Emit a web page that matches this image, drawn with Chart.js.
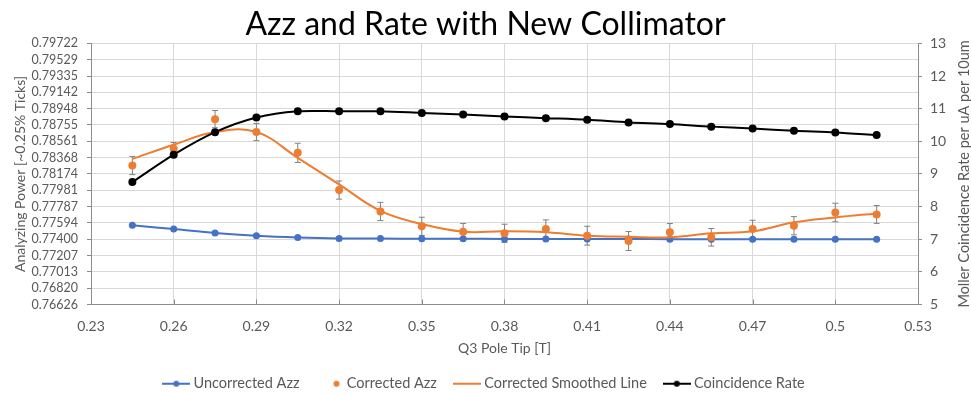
<!DOCTYPE html>
<html>
<head>
<meta charset="utf-8">
<script src="https://cdn.jsdelivr.net/npm/chart.js@4.4.0/dist/chart.umd.min.js"></script>
<style>
  html, body { margin: 0; padding: 0; background: #fff; }
  #wrap { width: 971px; height: 394px; overflow: hidden; }
</style>
</head>
<body>
<div id="wrap"><canvas id="azzChart" width="971" height="394"></canvas></div>
<script>
// Q3 pole tip settings [T]
const q3PoleTip = [0.245, 0.26, 0.275, 0.29, 0.305, 0.32, 0.335, 0.35, 0.365, 0.38,
                   0.395, 0.41, 0.425, 0.44, 0.455, 0.47, 0.485, 0.5, 0.515];

// left axis: analyzing power
const uncorrectedAzz = [0.77565, 0.77520, 0.77473, 0.77440, 0.77420, 0.77410, 0.77408, 0.77406, 0.77405, 0.77404,
                        0.77403, 0.77402, 0.77402, 0.77401, 0.77401, 0.77400, 0.77400, 0.77400, 0.77400];
const correctedAzz = [0.78274, 0.78474, 0.78824, 0.78671, 0.78424, 0.77983, 0.77729, 0.77553, 0.77489, 0.77470,
                      0.77521, 0.77442, 0.77379, 0.77482, 0.77423, 0.77521, 0.77560, 0.77717, 0.77694];
const correctedErr = [0.00108, 0.00072, 0.00102, 0.00102, 0.00114, 0.00108, 0.00108, 0.00108, 0.00098, 0.00108,
                      0.00108, 0.00112, 0.00112, 0.00104, 0.00104, 0.00104, 0.00108, 0.00110, 0.00106];
const smoothedAzz = [0.78353, 0.78521, 0.78671, 0.78671, 0.78365, 0.78050, 0.77736, 0.77580, 0.77489, 0.77494,
                     0.77482, 0.77442, 0.77430, 0.77423, 0.77470, 0.77494, 0.77600, 0.77658, 0.77706];

// right axis: coincidence rate per uA per 10um
const coincidenceRate = [8.75, 9.59, 10.28, 10.73, 10.92, 10.92, 10.92, 10.87, 10.82, 10.76,
                         10.71, 10.66, 10.58, 10.53, 10.45, 10.39, 10.32, 10.27, 10.19];

const xTicks = [0.23, 0.26, 0.29, 0.32, 0.35, 0.38, 0.41, 0.44, 0.47, 0.5, 0.53];
const leftTicks = [0.76626, 0.76820, 0.77013, 0.77207, 0.77400, 0.77594, 0.77787, 0.77981, 0.78174,
                   0.78368, 0.78561, 0.78755, 0.78948, 0.79142, 0.79335, 0.79529, 0.79722];

const BLUE = '#4472c4', ORANGE = '#ed7d31', BLACK = '#000000';
const TEXT = '#595959', GRID = '#d9d9d9', AXIS = '#8c8c8c';
const FONT = 'Lato';

const pts = arr => q3PoleTip.map((x, i) => ({ x: x, y: arr[i] }));

function legendIcon(color, line, dot) {
  const c = document.createElement('canvas');
  c.width = 28; c.height = 10;
  const g = c.getContext('2d');
  if (line) {
    g.strokeStyle = color; g.lineWidth = 2;
    g.beginPath(); g.moveTo(0, 5); g.lineTo(28, 5); g.stroke();
  }
  if (dot) {
    g.fillStyle = color;
    g.beginPath(); g.arc(line ? 14 : 21, 5, 3, 0, Math.PI * 2); g.fill();
  }
  return c;
}

const errorBars = {
  id: 'errorBars',
  beforeDatasetsDraw(chart) {
    const ctx = chart.ctx, xs = chart.scales.x, ys = chart.scales.yLeft;
    ctx.save();
    ctx.strokeStyle = '#808080';
    ctx.lineWidth = 1;
    q3PoleTip.forEach((t, i) => {
      const px = xs.getPixelForValue(t);
      const top = ys.getPixelForValue(correctedAzz[i] + correctedErr[i]);
      const bot = ys.getPixelForValue(correctedAzz[i] - correctedErr[i]);
      ctx.beginPath();
      ctx.moveTo(px, top); ctx.lineTo(px, bot);
      ctx.moveTo(px - 3, top); ctx.lineTo(px + 3, top);
      ctx.moveTo(px - 3, bot); ctx.lineTo(px + 3, bot);
      ctx.stroke();
    });
    // small inside tick marks on the x axis
    ctx.strokeStyle = AXIS;
    const yb = chart.chartArea.bottom;
    xTicks.forEach(t => {
      const px = Math.round(xs.getPixelForValue(t)) + 0.5;
      ctx.beginPath(); ctx.moveTo(px, yb); ctx.lineTo(px, yb - 5); ctx.stroke();
    });
    ctx.restore();
  }
};

// right axis title reads bottom-to-top, so draw it by hand
const rightTitle = {
  id: 'rightTitle',
  afterDraw(chart) {
    const ctx = chart.ctx, a = chart.chartArea, s = chart.scales.yRight;
    ctx.save();
    ctx.translate(s.right - 7, (a.top + a.bottom) / 2);
    ctx.rotate(-Math.PI / 2);
    ctx.font = '14.5px ' + FONT;
    ctx.fillStyle = TEXT;
    ctx.textAlign = 'center';
    ctx.textBaseline = 'middle';
    ctx.fillText('Moller Coincidence Rate per uA per 10um', 0, 0);
    ctx.restore();
  }
};

new Chart(document.getElementById('azzChart').getContext('2d'), {
  type: 'line',
  data: {
    datasets: [{
      label: 'Uncorrected Azz',
      data: pts(uncorrectedAzz),
      yAxisID: 'yLeft',
      borderColor: BLUE,
      backgroundColor: BLUE,
      borderWidth: 2,
      pointRadius: 3.5,
      pointBorderWidth: 0,
      tension: 0.3,
      order: 3
    },
    {
      label: 'Corrected Azz',
      data: pts(correctedAzz),
      yAxisID: 'yLeft',
      showLine: false,
      borderColor: ORANGE,
      backgroundColor: ORANGE,
      pointRadius: 4,
      pointBorderWidth: 0,
      order: 1
    },
    {
      label: 'Corrected Smoothed Line',
      data: pts(smoothedAzz),
      yAxisID: 'yLeft',
      borderColor: ORANGE,
      backgroundColor: ORANGE,
      borderWidth: 2,
      pointRadius: 0,
      tension: 0.4,
      order: 2
    },
    {
      label: 'Coincidence Rate',
      data: pts(coincidenceRate),
      yAxisID: 'yRight',
      borderColor: BLACK,
      backgroundColor: BLACK,
      borderWidth: 2,
      pointRadius: 4,
      pointBorderWidth: 0,
      tension: 0.3,
      order: 0
    }]
  },
  options: {
    responsive: false,
    animation: false,
    layout: { padding: { left: 0, right: 0, top: 0, bottom: -7 } },
    plugins: {
      title: {
        display: true,
        text: 'Azz and Rate with New Collimator',
        color: '#000',
        font: { family: FONT, size: 32, weight: 'normal' },
        padding: { top: 5, bottom: 0 }
      },
      legend: {
        position: 'bottom',
        labels: {
          usePointStyle: true,
          pointStyleWidth: 20,
          boxHeight: 10,
          padding: 20,
          color: TEXT,
          font: { family: FONT, size: 14.5 },
          generateLabels(chart) {
            const icons = [
              legendIcon(BLUE, true, true),
              legendIcon(ORANGE, false, true),
              legendIcon(ORANGE, true, false),
              legendIcon(BLACK, true, true)
            ];
            return chart.data.datasets.map((ds, i) => ({
              text: ds.label,
              pointStyle: icons[i],
              fontColor: TEXT,
              fillStyle: 'transparent',
              strokeStyle: 'transparent',
              lineWidth: 0,
              hidden: false,
              datasetIndex: i
            }));
          }
        }
      },
      tooltip: { enabled: false }
    },
    scales: {
      x: {
        type: 'linear',
        min: 0.23,
        max: 0.53,
        afterBuildTicks: s => { s.ticks = xTicks.map(v => ({ value: v })); },
        afterFit: s => { s.height = 52; },
        ticks: {
          color: TEXT,
          font: { family: FONT, size: 14 },
          padding: 14,
          maxRotation: 0,
          autoSkip: false,
          callback: v => String(Number(v.toFixed(2)))
        },
        grid: { color: GRID, drawTicks: false },
        border: { color: AXIS },
        title: {
          display: true,
          text: 'Q3 Pole Tip [T]',
          color: TEXT,
          font: { family: FONT, size: 14 },
          padding: { top: 6, bottom: 0 }
        }
      },
      yLeft: {
        position: 'left',
        min: leftTicks[0],
        max: leftTicks[leftTicks.length - 1],
        afterBuildTicks: s => { s.ticks = leftTicks.map(v => ({ value: v })); },
        afterFit: s => { s.width = 91; },
        ticks: {
          color: TEXT,
          font: { family: FONT, size: 12.5 },
          padding: 9,
          autoSkip: false,
          callback: v => v.toFixed(5)
        },
        grid: { color: GRID, tickColor: AXIS, tickLength: 4 },
        border: { color: AXIS },
        title: {
          display: true,
          text: 'Analyzing Power [~0.25% Ticks]',
          color: TEXT,
          font: { family: FONT, size: 14 },
          padding: { top: 12, bottom: 0 }
        }
      },
      yRight: {
        position: 'right',
        min: 5,
        max: 13,
        afterFit: s => { s.width = 53; },
        ticks: {
          stepSize: 1,
          color: TEXT,
          font: { family: FONT, size: 14 },
          padding: 8
        },
        grid: { drawOnChartArea: false, color: AXIS, tickLength: 4 },
        border: { color: AXIS }
      }
    }
  },
  plugins: [errorBars, rightTitle]
});
</script>
</body>
</html>
